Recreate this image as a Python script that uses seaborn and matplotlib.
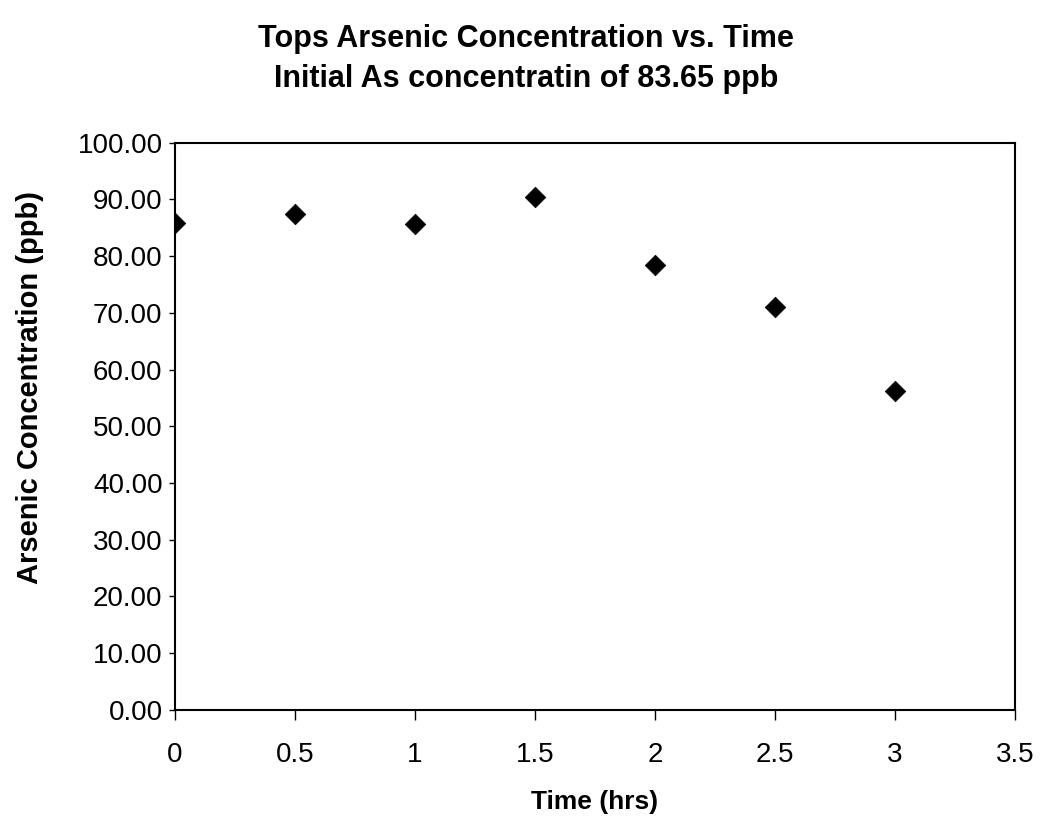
import matplotlib
matplotlib.use("Agg")
import matplotlib.pyplot as plt
import seaborn as sns
import pandas as pd
from matplotlib.ticker import FormatStrFormatter, MultipleLocator, FuncFormatter

time_hrs = [0, 0.5, 1, 1.5, 2, 2.5, 3]
arsenic_ppb = [85.9, 87.4, 85.6, 90.5, 78.4, 71.1, 56.3]
title_lines = ["Tops Arsenic Concentration vs. Time", "Initial As concentratin of 83.65 ppb"]

df = pd.DataFrame({"Time (hrs)": time_hrs, "Arsenic Concentration (ppb)": arsenic_ppb})

sns.set_theme(style="white")
plt.rcParams['font.family'] = ['Liberation Sans', 'DejaVu Sans']
plt.rcParams['text.color'] = 'black'
plt.rcParams['axes.labelcolor'] = 'black'

fig = plt.figure(figsize=(10.42, 8.35), dpi=100)
ax = fig.add_axes([0.168, 0.150, 0.806, 0.679])

sns.scatterplot(data=df, x="Time (hrs)", y="Arsenic Concentration (ppb)", ax=ax,
                marker="D", s=110, color="black", edgecolor="black", linewidth=0.5)

ax.set_xlim(0, 3.5)
ax.set_ylim(0, 100)
ax.xaxis.set_major_locator(MultipleLocator(0.5))
ax.yaxis.set_major_locator(MultipleLocator(10))
ax.yaxis.set_major_formatter(FormatStrFormatter('%.2f'))
ax.xaxis.set_major_formatter(FuncFormatter(lambda v, p: ('%g' % v)))

for sp in ax.spines.values():
    sp.set_color("black")
    sp.set_linewidth(1.5)

ax.tick_params(axis='y', direction='out', length=4, width=1, colors='black', labelsize=20, pad=5, left=True)
ax.tick_params(axis='x', direction='out', length=7, width=1, colors='black', labelsize=20, pad=16, bottom=True)

ax.set_xlabel("Time (hrs)", fontsize=19, fontweight='bold', labelpad=16, color='black')
ax.set_ylabel("Arsenic Concentration (ppb)", fontsize=21, fontweight='bold', color='black')
ax.yaxis.set_label_coords(-0.173, 0.568)
ax.yaxis.label.set_va('center')

fig.text(0.505, 0.953, title_lines[0], ha='center', va='center', fontsize=22, fontweight='bold', color='black')
fig.text(0.505, 0.905, title_lines[1], ha='center', va='center', fontsize=22, fontweight='bold', color='black')

fig.savefig("out.png", dpi=100, facecolor="white")
